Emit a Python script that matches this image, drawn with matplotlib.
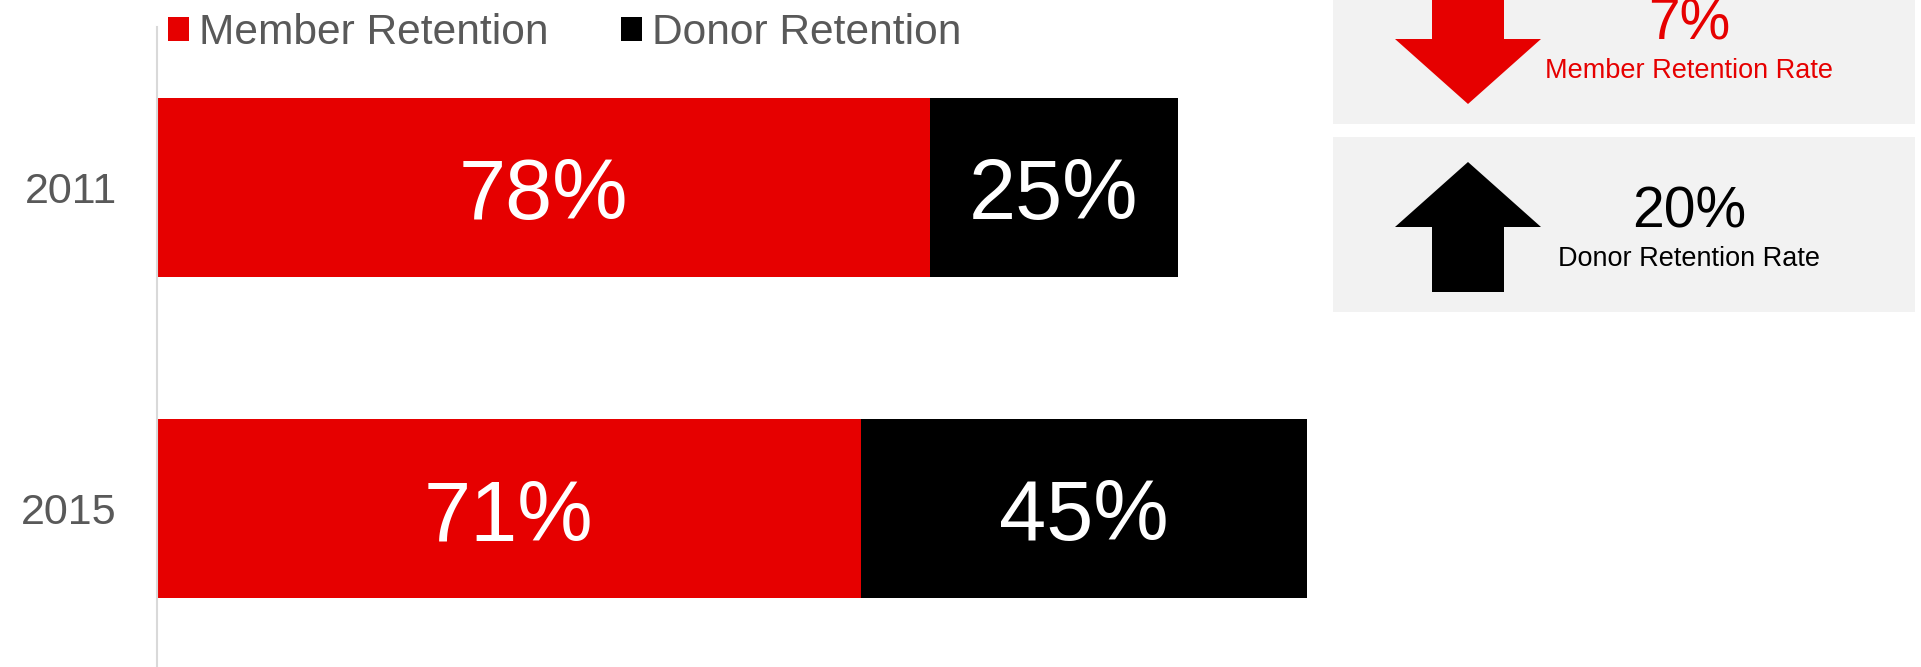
import matplotlib.pyplot as plt
from matplotlib.patches import Rectangle, Polygon

plt.rcParams['font.family'] = ['Liberation Sans', 'DejaVu Sans']

years = ['2011', '2015']
member = [78, 71]
donor = [25, 45]
series = ['Member Retention', 'Donor Retention']

red = '#e60000'
grey_txt = '#595959'

W, H = 1921, 667
fig = plt.figure(figsize=(W / 100, H / 100), dpi=100)

# stacked bar chart, x in percent (about 9.9 px per point)
ax = fig.add_axes([157 / W, 0, 120 * 9.91 / W, 640 / H])
ax.patch.set_visible(False)
ypos = list(range(len(years)))
b1 = ax.barh(ypos, member, height=0.558, color=red, label=series[0])
b2 = ax.barh(ypos, donor, left=member, height=0.558, color='black', label=series[1])
for bars in (b1, b2):
    anns = ax.bar_label(bars, labels=[f'{v}%' for v in bars.datavalues],
                        label_type='center', color='white', fontsize=61)
    for a in anns:
        a.xyann = (0, -7)

ax.set_xlim(0, 120)
ax.set_ylim(1.494, -0.5)
ax.set_yticks(ypos, years)
ax.tick_params(axis='y', length=0, pad=29, labelsize=31, labelcolor=grey_txt)
ax.set_xticks([])
for s in ['top', 'right', 'bottom']:
    ax.spines[s].set_visible(False)
ax.spines['left'].set_color('#d9d9d9')
ax.spines['left'].set_linewidth(1.5)

fig.legend(handles=[b1, b2], loc='center left',
           bbox_to_anchor=(168 / W, 1 - 33 / H), ncol=2, frameon=False,
           fontsize=30.6, labelcolor=grey_txt, handlelength=0.5, handleheight=0.5,
           handletextpad=0.22, columnspacing=1.72, borderpad=0, borderaxespad=0)

# change panels on the right, drawn in pixel space
ov = fig.add_axes([0, 0, 1, 1], zorder=-1)
ov.set_xlim(0, W)
ov.set_ylim(H, 0)
ov.axis('off')

changes = [
    (member[1] - member[0], 'Member Retention Rate', red, -51),
    (donor[1] - donor[0], 'Donor Retention Rate', 'black', 137),
]


def arrow(cx, top, length, up):
    hw, sw, hl = 73, 36, 65
    if up:
        tip, base = top, top + length
        neck = tip + hl
    else:
        tip, base = top + length, top
        neck = tip - hl
    return [(cx, tip), (cx + hw, neck), (cx + sw, neck), (cx + sw, base),
            (cx - sw, base), (cx - sw, neck), (cx - hw, neck)]


for delta, name, col, ptop in changes:
    ov.add_patch(Rectangle((1333, ptop), 582, 175, color='#f2f2f2', lw=0))
    up = delta > 0
    atop = ptop + 25
    ov.add_patch(Polygon(arrow(1468, atop, 130, up), closed=True, color=col, lw=0))
    ov.text(1689, ptop + 91, f'{abs(delta)}%', color=col, fontsize=41,
            ha='center', va='baseline')
    ov.text(1689, ptop + 128.5, name, color=col, fontsize=19.5,
            ha='center', va='baseline')

fig.savefig('out.png', dpi=100)
